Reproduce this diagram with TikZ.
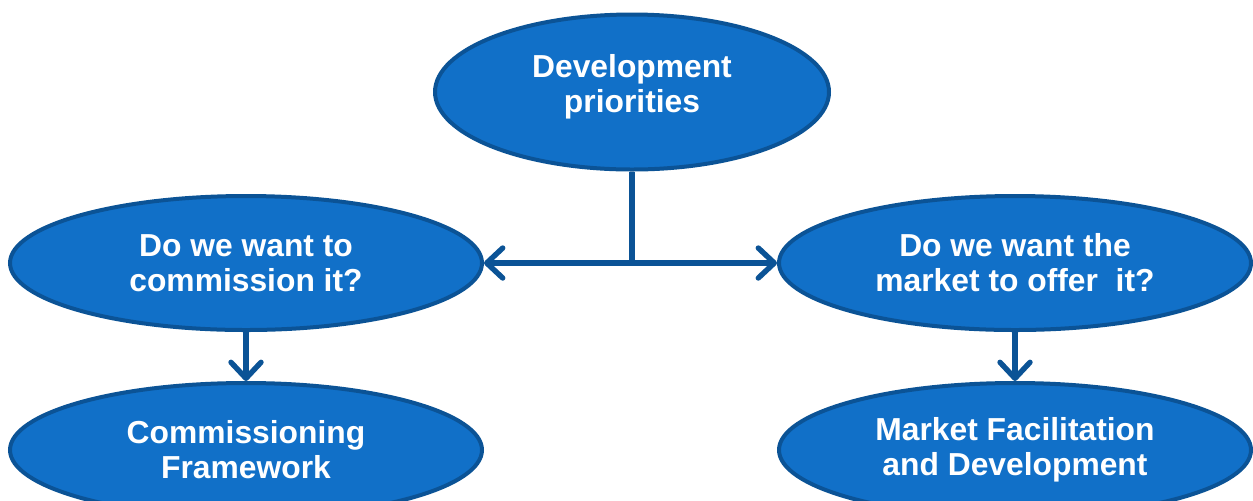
\documentclass[tikz,border=0pt]{standalone}
\usepackage{fontspec}
\setmainfont{Liberation Sans}
\usetikzlibrary{shapes.geometric,arrows.meta}
\definecolor{bubblefill}{RGB}{17,112,200}
\definecolor{bubbleline}{RGB}{11,83,150}
\begin{document}
\begin{tikzpicture}[x=0.5pt,y=-0.5pt,
  bubbletext/.style={text=white,font=\bfseries\fontsize{15.9}{17.6}\selectfont,
    align=center,inner sep=0pt},
  bubble/.style={ellipse,draw=bubbleline,fill=bubblefill,line width=2pt,
    bubbletext},
  bigbubble/.style={bubble,minimum width=197pt,minimum height=77.5pt},
  midbubble/.style={bubble,minimum width=236pt,minimum height=67pt},
  link/.style={draw=bubbleline,line width=2.7pt},
  head/.style={-{Straight Barb[length=8pt,width=15pt,round]}}]
\clip (0,0) rectangle (1253,500);
\fill[white] (0,0) rectangle (1253,500);

\node[bigbubble] (dev) at (632,92) {};
\node[bubbletext] (devtext) at (632,87) {Development\\priorities};
\node[midbubble] (comm) at (246,263) {Do we want to\\commission it?};
\node[midbubble] (mkt) at (1015,263) {Do we want the\\market to offer\ \ it?};
\node[midbubble] (frame) at (246,450) {Commissioning\\Framework};
\node[midbubble] (fac) at (1015,450) {Market Facilitation\\and Development};

\coordinate (split) at (632,263);
\draw[link] (dev.south) -- (split);
\draw[link,head] (split) -- (comm.east);
\draw[link,head] (split) -- (mkt.west);
\draw[link,head] (comm.south) -- (frame.north);
\draw[link,head] (mkt.south) -- (fac.north);
\end{tikzpicture}
\end{document}
